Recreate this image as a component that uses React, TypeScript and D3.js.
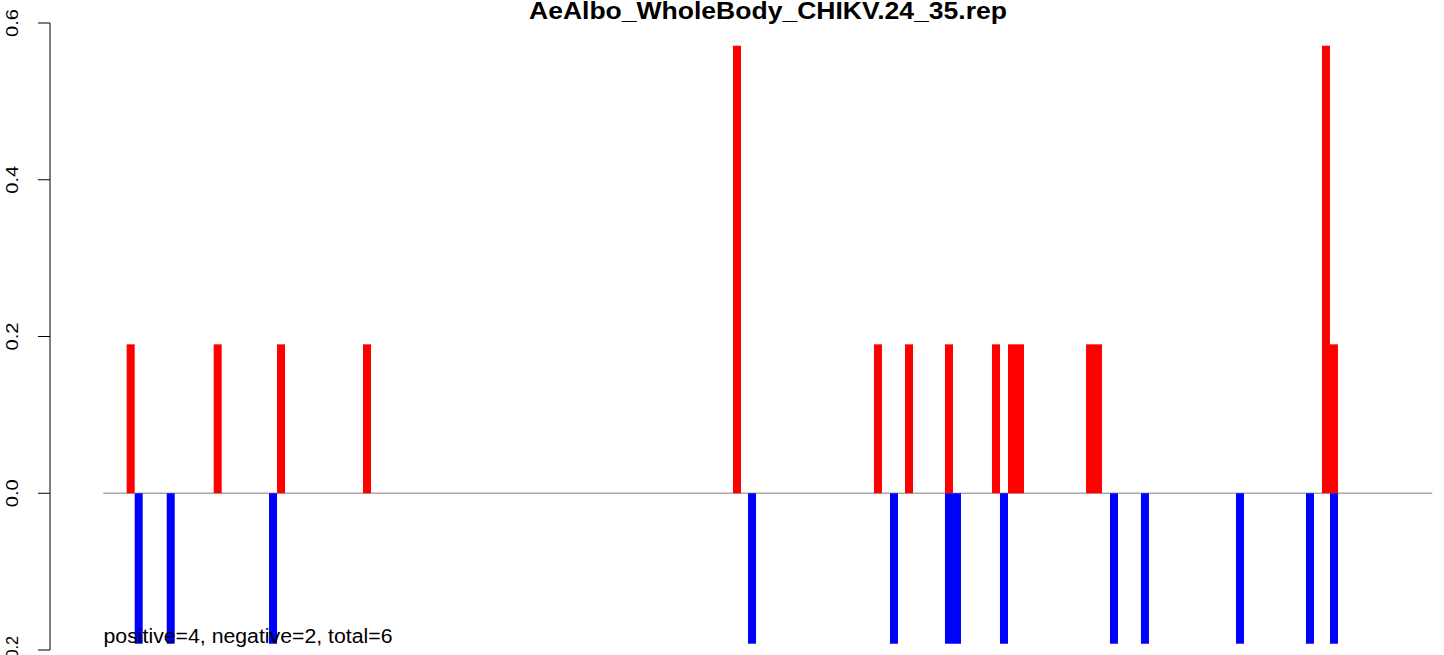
import React from "react";
import * as d3 from "d3";

const TITLE = "AeAlbo_WholeBody_CHIKV.24_35.rep";
const NOTE = "positive=4, negative=2, total=6";

// positions (bar centres, in bar-width units) and values
const posX = [3.42, 14.29, 22.2, 32.94, 79.15, 96.76, 100.64, 105.63, 111.5, 113.5, 114.5, 123.25, 124.24, 152.72, 153.72];
const posY = [0.19, 0.19, 0.19, 0.19, 0.571, 0.19, 0.19, 0.19, 0.19, 0.19, 0.19, 0.19, 0.19, 0.571, 0.19];
const negX = [4.42, 8.42, 21.2, 81.03, 98.76, 105.63, 106.63, 112.5, 126.24, 130.11, 141.98, 150.72, 153.72];
const negY = [-0.192, -0.192, -0.192, -0.192, -0.192, -0.192, -0.192, -0.192, -0.192, -0.192, -0.192, -0.192, -0.192];
const yTicks = [-0.2, 0.0, 0.2, 0.4, 0.6];
const xDomain = [0, 166];

export default function App() {
  const W = 1444, H = 655;
  const x = d3.scaleLinear().domain(xDomain).range([103.3, 1432.3]);
  const y = d3.scaleLinear().domain([-0.2, 0.6]).range([650, 23]);
  const bw = x(1) - x(0);
  const font = "'Liberation Sans', Arial, Helvetica, sans-serif";
  return (
    <svg width={W} height={H} style={{ position: "absolute", left: 0, top: 0, background: "#fff" }}>
      <rect x={0} y={0} width={W} height={H} fill="#fff" />
      <text x={529} y={19} fontFamily={font} fontWeight="bold" fontSize={23} textLength={478} lengthAdjust="spacingAndGlyphs">{TITLE}</text>
      {/* zero line */}
      <line x1={x(xDomain[0])} x2={x(xDomain[1])} y1={y(0)} y2={y(0)} stroke="#a9a9a9" strokeWidth={1.5} />
      {posX.map((px, i) => (
        <rect key={"p" + i} x={x(px) - bw / 2} width={bw} y={y(posY[i])} height={y(0) - y(posY[i])} fill="#ff0000" />
      ))}
      {negX.map((nx, i) => (
        <rect key={"n" + i} x={x(nx) - bw / 2} width={bw} y={y(0)} height={y(negY[i]) - y(0)} fill="#0000ff" />
      ))}
      {/* y axis */}
      <line x1={50} x2={50} y1={y(0.6)} y2={y(-0.2)} stroke="#000" strokeWidth={1} />
      {yTicks.map((t) => (
        <g key={t}>
          <line x1={38} x2={50} y1={y(t)} y2={y(t)} stroke="#000" strokeWidth={1} />
          <text transform={`translate(17.5,${y(t)}) rotate(-90)`} textAnchor="middle" fontFamily={font} fontSize={16} textLength={28} lengthAdjust="spacingAndGlyphs">{t.toFixed(1)}</text>
        </g>
      ))}
      <text x={103.5} y={643} fontFamily={font} fontSize={19.5} textLength={289} lengthAdjust="spacingAndGlyphs">{NOTE}</text>
    </svg>
  );
}
